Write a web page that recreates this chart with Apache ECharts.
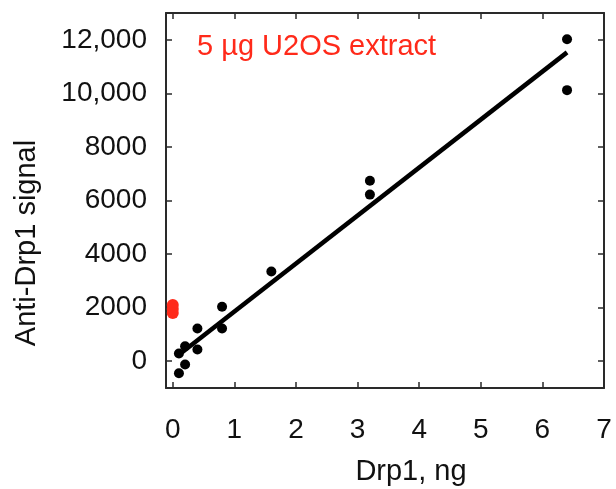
<!DOCTYPE html>
<html>
<head>
<meta charset="utf-8">
<script src="https://cdn.jsdelivr.net/npm/echarts@6/dist/echarts.min.js"></script>
<style>
  html, body { margin: 0; padding: 0; background: #fff; }
  #chart { width: 616px; height: 489px; }
</style>
</head>
<body>
<div id="chart"></div>
<script>
// standard curve: Drp1 amount (ng) vs anti-Drp1 signal
var drp1Ng = [0.1, 0.1, 0.2, 0.2, 0.4, 0.4, 0.8, 0.8, 1.6, 3.2, 3.2, 6.4, 6.4];
var signal = [-450, 290, -120, 560, 440, 1220, 1220, 2030, 3350, 6740, 6220, 12020, 10120];

// U2OS extract readings (plotted at x = 0)
var extractNg = [0, 0, 0];
var extractSignal = [2100, 1950, 1800];

// fitted line end points
var fitNg = [0.1, 6.4];
var fitSignal = [240, 11530];

var xTicks = [0, 1, 2, 3, 4, 5, 6, 7];
var yTicks = [0, 2000, 4000, 6000, 8000, 10000, 12000];

function pairs(xs, ys) {
  return xs.map(function (x, i) { return [x, ys[i]]; });
}

var font = '"Liberation Sans", Arial, sans-serif';
var axisColor = '#2a2a2a';

var chart = echarts.init(document.getElementById('chart'));

function xAxisOpt(pos, labels) {
  return {
    type: 'value',
    position: pos,
    min: -0.11,
    max: 7,
    splitLine: { show: false },
    axisLine: { show: true, onZero: false, lineStyle: { color: axisColor, width: 2 } },
    axisTick: { show: true, inside: true, length: 6, customValues: xTicks,
      lineStyle: { color: axisColor, width: 1.5 } },
    axisLabel: { show: labels, customValues: xTicks, margin: 28,
      fontFamily: font, fontSize: 28, color: '#111' }
  };
}

function yAxisOpt(pos, labels) {
  return {
    type: 'value',
    position: pos,
    min: -1000,
    max: 13000,
    splitLine: { show: false },
    axisLine: { show: true, onZero: false, lineStyle: { color: axisColor, width: 2 } },
    axisTick: { show: true, inside: true, length: 6, customValues: yTicks,
      lineStyle: { color: axisColor, width: 1.5 } },
    axisLabel: {
      show: labels, customValues: yTicks, margin: 19,
      fontFamily: font, fontSize: 28, color: '#111',
      formatter: function (v) {
        return v >= 10000 ? v.toLocaleString('en-US') : String(v);
      }
    }
  };
}

var option = {
  animation: false,
  backgroundColor: '#fff',
  grid: { left: 166, right: 12, top: 13, bottom: 101, containLabel: false, outerBoundsMode: 'none' },
  xAxis: [xAxisOpt('bottom', true), xAxisOpt('top', false)],
  yAxis: [yAxisOpt('left', true), yAxisOpt('right', false)],
  graphic: [
    {
      type: 'text', x: 197, y: 47,
      style: { text: '5 µg U2OS extract', fill: '#ff2a1a', font: '29px ' + font,
        textAlign: 'left', textVerticalAlign: 'middle' }
    },
    {
      type: 'text', x: 411, y: 472,
      style: { text: 'Drp1, ng', fill: '#111', font: '29px ' + font,
        textAlign: 'center', textVerticalAlign: 'middle' }
    },
    {
      type: 'text', x: 27, y: 243, rotation: Math.PI / 2,
      style: { text: 'Anti-Drp1 signal', fill: '#111', font: '29px ' + font,
        textAlign: 'center', textVerticalAlign: 'middle' }
    }
  ],
  series: [
    {
      type: 'line',
      data: pairs(fitNg, fitSignal),
      showSymbol: false,
      lineStyle: { color: '#000', width: 4.5 },
      z: 2
    },
    {
      type: 'scatter',
      data: pairs(drp1Ng, signal),
      symbolSize: 10,
      itemStyle: { color: '#000', opacity: 1 },
      z: 3
    },
    {
      type: 'scatter',
      data: pairs(extractNg, extractSignal),
      symbolSize: 12,
      itemStyle: { color: '#ff2a1a', opacity: 1 },
      z: 3
    }
  ]
};

chart.setOption(option);
</script>
</body>
</html>
